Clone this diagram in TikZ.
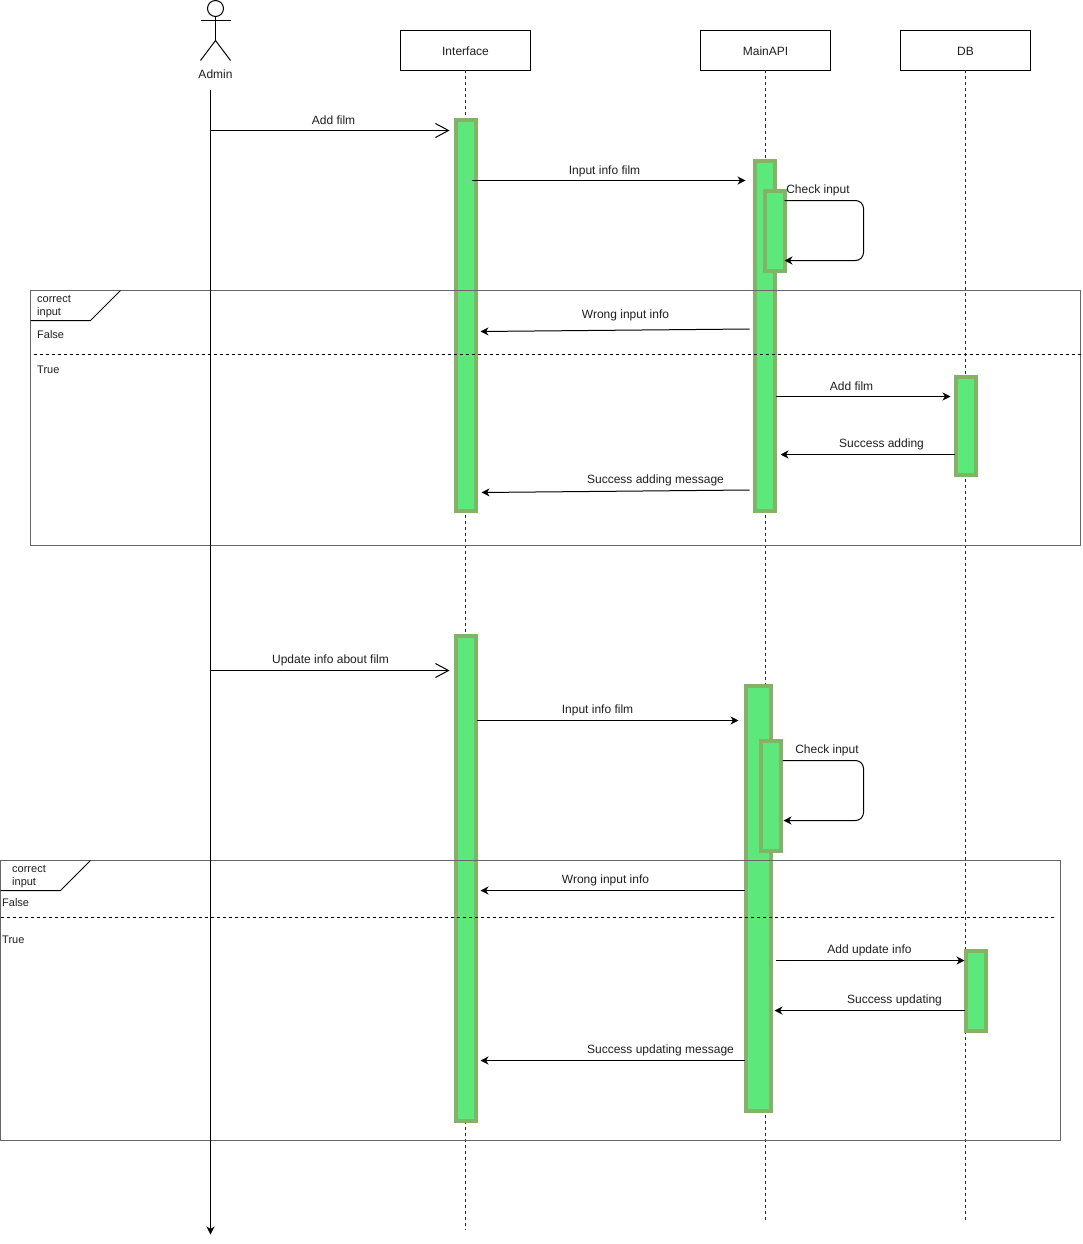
\documentclass[tikz,border=0pt]{standalone}
\usepackage{fontspec}
\setmainfont{Liberation Sans}
\usepackage{xcolor}
\usetikzlibrary{arrows.meta,arrows}
\definecolor{barfill}{RGB}{93,232,124}
\definecolor{barline}{RGB}{130,179,102}
\definecolor{frameline}{RGB}{102,102,102}
\definecolor{inktext}{RGB}{30,30,30}
\tikzset{
lbl/.style={font=\fontsize{12}{14}\selectfont,text=inktext,inner sep=0pt,xshift=0.5pt,yshift=-1.5pt},
small/.style={font=\fontsize{11}{13}\selectfont,text=inktext,inner sep=0pt,anchor=west,align=left,xshift=0.5pt,yshift=-0.5pt},
headbox/.style={draw,line width=1pt,minimum width=130,minimum height=40,outer sep=0pt,font=\fontsize{12}{14}\selectfont,text=inktext,text height=10.5pt,text depth=0pt},
bar/.style={draw=barline,fill=barfill,line width=4pt,inner sep=0pt,outer sep=0pt},
lifeline/.style={line width=1pt,dash pattern=on 3pt off 3pt,black!85},
framebox/.style={draw=frameline,line width=1pt,inner sep=0pt,outer sep=0pt,anchor=north west},
msg/.style={-{Stealth[length=8pt,width=8pt,inset=2.5pt]},line width=1pt},
openmsg/.style={-{Straight Barb[length=13pt,width=14pt]},line width=1pt}
}
\begin{document}
\begin{tikzpicture}[x=1pt,y=-1pt,>=stealth]
\useasboundingbox(0.5,0.5)rectangle(1083.5,1244.5);
\node[headbox](ifbox)at(466,51){Interface};
\node[headbox](apibox)at(766,51){MainAPI};
\node[headbox](dbbox)at(966,51){DB};
\coordinate(ifend)at(466,1230);
\coordinate(apiend)at(766,1220);
\coordinate(dbend)at(966,1220);
\draw[lifeline](ifbox.south)--(ifend);
\draw[lifeline](apibox.south)--(apiend);
\draw[lifeline](dbbox.south)--(dbend);
\node[draw,circle,line width=1pt,minimum size=16,inner sep=0pt,outer sep=0pt](head)at(216,9){};
\coordinate(hip)at(216,41);
\coordinate(armL)at(201,21);
\coordinate(armR)at(231,21);
\coordinate(footL)at(201,61);
\coordinate(footR)at(231,61);
\draw[line width=1pt](head.south)--(hip);
\draw[line width=1pt](armL)--(armR);
\draw[line width=1pt](footL)--(hip)--(footR);
\node[lbl](admin)at(215.5,73){Admin};
\node[bar,minimum width=20,minimum height=390](ifbarA)at(466,316){};
\node[bar,minimum width=20,minimum height=350](apibarA)at(765,336){};
\node[bar,minimum width=20,minimum height=80](chkbarA)at(775,231){};
\node[bar,minimum width=20,minimum height=98](dbbarA)at(966,426){};
\node[bar,minimum width=20,minimum height=485](ifbarB)at(466,878.5){};
\node[bar,minimum width=25,minimum height=425](apibarB)at(758.5,898.5){};
\node[bar,minimum width=20,minimum height=110](chkbarB)at(771,796){};
\node[bar,minimum width=20,minimum height=80](dbbarB)at(976,991){};
\node[framebox,minimum width=1050,minimum height=255](frameA)at(31,291){};
\node[framebox,minimum width=1060,minimum height=280](frameB)at(1,861){};
\coordinate(tabA1)at(121,291);
\coordinate(tabA2)at(91,321);
\coordinate(tabA3)at(31,321);
\coordinate(tabB1)at(91,861);
\coordinate(tabB2)at(61,891);
\coordinate(tabB3)at(1,891);
\draw[line width=1pt](tabA1)--(tabA2)--(tabA3);
\draw[line width=1pt](tabB1)--(tabB2)--(tabB3);
\coordinate(splitA1)at(34,355);
\coordinate(splitA2)at(1081,355);
\coordinate(splitB1)at(1,918);
\coordinate(splitB2)at(1056,918);
\draw[dashed,line width=1pt](splitA1)--(splitA2);
\draw[dashed,line width=1pt](splitB1)--(splitB2);
\node[small](tabtextA)at(37,307){correct\\input};
\node[small](falseA)at(37,334.5){False};
\node[small](trueA)at(37,369.5){True};
\node[small](tabtextB)at(12,877){correct\\input};
\node[small](falseB)at(2,902.5){False};
\node[small](trueB)at(2,939.5){True};
\coordinate(admintop)at(211,91);
\coordinate(adminend)at(211,1235);
\draw[msg](admintop)--(adminend);
\coordinate(m1s)at(211,131);
\coordinate(m1e)at(450,131);
\draw[openmsg](m1s)--(m1e);
\node[lbl](m1t)at(333.5,119.5){Add film};
\coordinate(m2s)at(472,181);
\coordinate(m2e)at(746,181);
\draw[msg](m2s)--(m2e);
\node[lbl](m2t)at(604.5,170){Input info film};
\coordinate(c1s)at(785,201);
\coordinate(c1m)at(864,231);
\coordinate(c1e)at(785,261);
\draw[msg,rounded corners=8pt](c1s)-|(c1m)|-(c1e);
\node[lbl](c1t)at(818,189.5){Check input};
\coordinate(m3s)at(750,329.5);
\coordinate(m3e)at(481,332);
\draw[msg](m3s)--(m3e);
\node[lbl](m3t)at(625.5,314.5){Wrong input info};
\coordinate(m4s)at(776,397);
\coordinate(m4e)at(951,397);
\draw[msg](m4s)--(m4e);
\node[lbl](m4t)at(851.5,385.5){Add film};
\coordinate(m5s)at(955,455);
\coordinate(m5e)at(781,455);
\draw[msg](m5s)--(m5e);
\node[lbl](m5t)at(881.5,443.5){Success adding};
\coordinate(m6s)at(750,490.5);
\coordinate(m6e)at(482,493);
\draw[msg](m6s)--(m6e);
\node[lbl](m6t)at(655.5,479.5){Success adding message};
\coordinate(n1s)at(211,671);
\coordinate(n1e)at(450,671);
\draw[openmsg](n1s)--(n1e);
\node[lbl](n1t)at(330.5,659.5){Update info about film};
\coordinate(n2s)at(477,721);
\coordinate(n2e)at(739,721);
\draw[msg](n2s)--(n2e);
\node[lbl](n2t)at(597.5,709.5){Input info film};
\coordinate(c2s)at(783,761);
\coordinate(c2m)at(864,791);
\coordinate(c2e)at(784,821);
\draw[msg,rounded corners=8pt](c2s)-|(c2m)|-(c2e);
\node[lbl](c2t)at(827,749.5){Check input};
\coordinate(n3s)at(745,891);
\coordinate(n3e)at(481,891);
\draw[msg](n3s)--(n3e);
\node[lbl](n3t)at(605.5,879.5){Wrong input info};
\coordinate(n4s)at(776,961);
\coordinate(n4e)at(965,961);
\draw[msg](n4s)--(n4e);
\node[lbl](n4t)at(869.5,949.5){Add update info};
\coordinate(n5s)at(965,1011);
\coordinate(n5e)at(775,1011);
\draw[msg](n5s)--(n5e);
\node[lbl](n5t)at(894.5,999.5){Success updating};
\coordinate(n6s)at(745,1061);
\coordinate(n6e)at(481,1061);
\draw[msg](n6s)--(n6e);
\node[lbl](n6t)at(660.5,1049.5){Success updating message};
\end{tikzpicture}
\end{document}
